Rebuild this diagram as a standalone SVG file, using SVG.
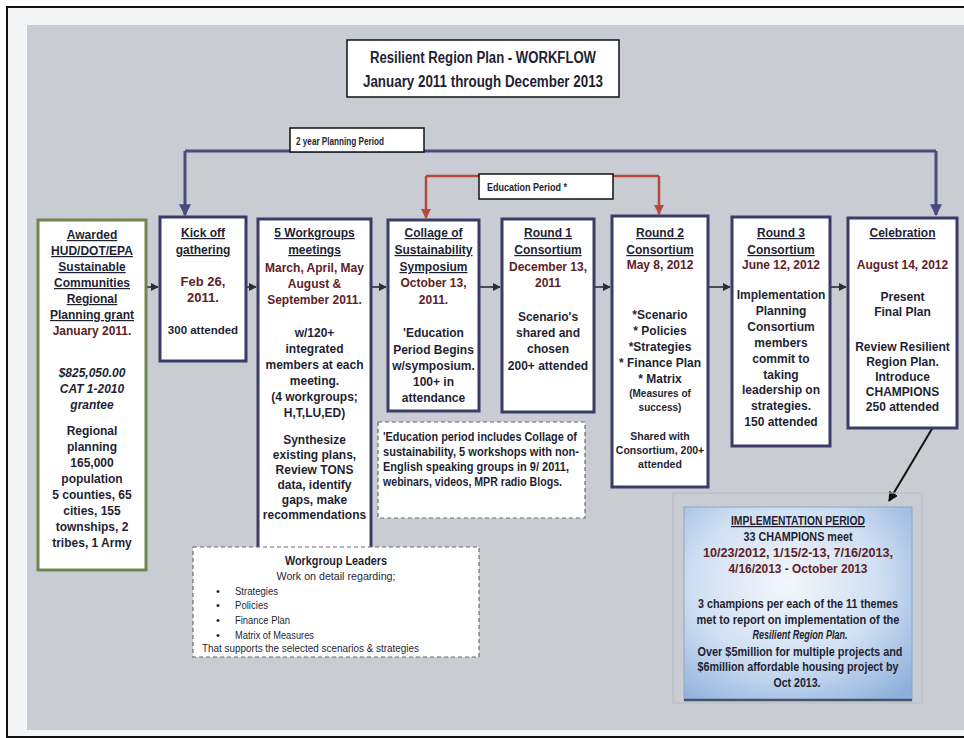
<svg xmlns="http://www.w3.org/2000/svg" width="964" height="738" viewBox="0 0 964 738">
<style>
.t{font-family:"Liberation Sans",Arial,sans-serif;font-weight:bold;font-size:12px;fill:#1f1f33;text-anchor:middle}
.u{text-decoration:underline}
.d{fill:#5e2127}
.l{text-anchor:start}
.n{font-weight:normal}
.node{fill:#ffffff;stroke:#3b3a68;stroke-width:3}
.dash{fill:#ffffff;stroke:#6a6a6a;stroke-width:1.2;stroke-dasharray:4 3}
.lbl{fill:#ffffff;stroke:#111111;stroke-width:1.5}
.arr{stroke:#2b2b3b;stroke-width:1.6;fill:none;marker-end:url(#ah)}
.blue{stroke:#4a4a7e;stroke-width:3;fill:none}
.red{stroke:#b54a3a;stroke-width:2.5;fill:none}
</style>
<defs>
<marker id="ah" viewBox="0 0 10 10" refX="9" refY="5" markerWidth="5" markerHeight="5" orient="auto"><path d="M0,0 L10,5 L0,10 z" fill="#2b2b3b"/></marker>
<marker id="ahb" viewBox="0 0 10 10" refX="9" refY="5" markerWidth="4" markerHeight="4" orient="auto"><path d="M0,0 L10,5 L0,10 z" fill="#4a4a7e"/></marker>
<marker id="ahr" viewBox="0 0 10 10" refX="9" refY="5" markerWidth="4" markerHeight="4" orient="auto"><path d="M0,0 L10,5 L0,10 z" fill="#b54a3a"/></marker>
<marker id="ahk" viewBox="0 0 10 10" refX="9" refY="5" markerWidth="5" markerHeight="5" orient="auto"><path d="M0,0 L10,5 L0,10 z" fill="#111111"/></marker>
<radialGradient id="ig" cx="45%" cy="40%" r="75%">
<stop offset="0" stop-color="#f3f7fc"/>
<stop offset="0.55" stop-color="#cfdff2"/>
<stop offset="1" stop-color="#8fb0dd"/>
</radialGradient>
</defs>
<rect x="0" y="0" width="964" height="738" fill="#ffffff"/>
<rect x="7" y="7" width="962" height="730" fill="#f4f5f7" stroke="#111111" stroke-width="2"/>
<rect x="27" y="25" width="937" height="705" fill="#c9ccd2"/>

<g id="title">
<rect class="lbl" x="347" y="40" width="272" height="57"/>
<text class="t" x="483" y="63" style="font-size:16px" textLength="226" lengthAdjust="spacingAndGlyphs">Resilient Region Plan - WORKFLOW</text>
<text class="t" x="483" y="87" style="font-size:16px" textLength="240" lengthAdjust="spacingAndGlyphs">January 2011 through December 2013</text>
</g>

<g id="connectors">
<path class="blue" d="M185,151 H936"/>
<path class="blue" d="M185,151 V215" marker-end="url(#ahb)"/>
<path class="blue" d="M936,151 V215" marker-end="url(#ahb)"/>
<path class="red" d="M426,176 H659"/>
<path class="red" d="M426,176 V218" marker-end="url(#ahr)"/>
<path class="red" d="M659,176 V214" marker-end="url(#ahr)"/>
<path class="arr" d="M146,287 H158"/>
<path class="arr" d="M246,287 H256"/>
<path class="arr" d="M371,287 H386"/>
<path class="arr" d="M479,287 H500"/>
<path class="arr" d="M594,287 H610"/>
<path class="arr" d="M708,287 H730"/>
<path class="arr" d="M830,287 H846"/>
<path d="M942,412 L889,501" stroke="#111111" stroke-width="2" fill="none" marker-end="url(#ahk)"/>
</g>

<g id="planning-period">
<rect class="lbl" x="290" y="128" width="134" height="24"/>
<text class="t l" x="296" y="145" style="font-size:11px" textLength="88" lengthAdjust="spacingAndGlyphs">2 year Planning Period</text>
</g>

<g id="education-period">
<rect class="lbl" x="479" y="174" width="134" height="25"/>
<text class="t l" x="487" y="191" style="font-size:11px" textLength="80" lengthAdjust="spacingAndGlyphs">Education Period *</text>
</g>

<g id="awarded">
<rect x="38" y="220" width="108" height="350" fill="#ffffff" stroke="#6f8550" stroke-width="3"/>
<text class="t u" x="92" y="239">Awarded</text>
<text class="t u" x="92" y="255">HUD/DOT/EPA</text>
<text class="t u" x="92" y="271">Sustainable</text>
<text class="t u" x="92" y="287">Communities</text>
<text class="t u" x="92" y="303">Regional</text>
<text class="t u" x="92" y="319">Planning grant</text>
<text class="t d" x="92" y="335">January 2011.</text>
<text class="t" x="92" y="377" font-style="italic">$825,050.00</text>
<text class="t" x="92" y="393" font-style="italic">CAT 1-2010</text>
<text class="t" x="92" y="409" font-style="italic">grantee</text>
<text class="t" x="92" y="435">Regional</text>
<text class="t" x="92" y="451">planning</text>
<text class="t" x="92" y="467">165,000</text>
<text class="t" x="92" y="483">population</text>
<text class="t" x="92" y="499">5 counties, 65</text>
<text class="t" x="92" y="515">cities, 155</text>
<text class="t" x="92" y="531">townships, 2</text>
<text class="t" x="92" y="547">tribes, 1 Army</text>
</g>

<g id="kickoff">
<rect class="node" x="160" y="217" width="86" height="144"/>
<text class="t u" x="203" y="237">Kick off</text>
<text class="t u" x="203" y="254">gathering</text>
<text class="t d" x="203" y="286" style="font-size:13px">Feb 26,</text>
<text class="t d" x="203" y="302" style="font-size:13px">2011.</text>
<text class="t" x="203" y="334" style="font-size:11.5px">300 attended</text>
</g>

<g id="workgroups">
<rect class="node" x="258" y="219" width="113" height="340"/>
<text class="t u" x="314.5" y="237">5 Workgroups</text>
<text class="t u" x="314.5" y="254">meetings</text>
<text class="t d" x="314.5" y="272">March, April, May</text>
<text class="t d" x="314.5" y="288">August &amp;</text>
<text class="t d" x="314.5" y="304">September 2011.</text>
<text class="t" x="314.5" y="337">w/120+</text>
<text class="t" x="314.5" y="353">integrated</text>
<text class="t" x="314.5" y="369">members at each</text>
<text class="t" x="314.5" y="385">meeting.</text>
<text class="t" x="314.5" y="401">(4 workgroups;</text>
<text class="t" x="314.5" y="417">H,T,LU,ED)</text>
<text class="t" x="314.5" y="444">Synthesize</text>
<text class="t" x="314.5" y="459">existing plans,</text>
<text class="t" x="314.5" y="474">Review TONS</text>
<text class="t" x="314.5" y="489">data, identify</text>
<text class="t" x="314.5" y="504">gaps, make</text>
<text class="t" x="314.5" y="519">recommendations</text>
</g>

<g id="collage">
<rect class="node" x="388" y="220" width="91" height="191"/>
<text class="t u" x="433.5" y="237">Collage of</text>
<text class="t u" x="433.5" y="254">Sustainability</text>
<text class="t u" x="433.5" y="271">Symposium</text>
<text class="t d" x="433.5" y="287">October 13,</text>
<text class="t d" x="433.5" y="304">2011.</text>
<text class="t" x="433.5" y="337">'Education</text>
<text class="t" x="433.5" y="354">Period Begins</text>
<text class="t" x="433.5" y="370">w/symposium.</text>
<text class="t" x="433.5" y="386">100+ in</text>
<text class="t" x="433.5" y="402">attendance</text>
</g>

<g id="round1">
<rect class="node" x="502" y="219" width="92" height="193"/>
<text class="t u" x="548" y="237">Round 1</text>
<text class="t u" x="548" y="254">Consortium</text>
<text class="t d" x="548" y="271">December 13,</text>
<text class="t d" x="548" y="287">2011</text>
<text class="t" x="548" y="321">Scenario's</text>
<text class="t" x="548" y="337">shared and</text>
<text class="t" x="548" y="353">chosen</text>
<text class="t" x="548" y="370">200+ attended</text>
</g>

<g id="round2">
<rect class="node" x="612" y="216" width="96" height="271"/>
<text class="t u" x="660" y="237">Round 2</text>
<text class="t u" x="660" y="254">Consortium</text>
<text class="t d" x="660" y="269">May 8, 2012</text>
<text class="t" x="660" y="319">*Scenario</text>
<text class="t" x="660" y="335">* Policies</text>
<text class="t" x="660" y="351">*Strategies</text>
<text class="t" x="660" y="367">* Finance Plan</text>
<text class="t" x="660" y="383">* Matrix</text>
<text class="t" x="660" y="397" style="font-size:10px">(Measures of</text>
<text class="t" x="660" y="411" style="font-size:10px">success)</text>
<text class="t" x="660" y="440" style="font-size:10.5px">Shared with</text>
<text class="t" x="660" y="454" style="font-size:10.5px">Consortium, 200+</text>
<text class="t" x="660" y="468" style="font-size:10.5px">attended</text>
</g>

<g id="round3">
<rect class="node" x="732" y="217" width="98" height="229"/>
<text class="t u" x="781" y="237">Round 3</text>
<text class="t u" x="781" y="254">Consortium</text>
<text class="t d" x="781" y="269">June 12, 2012</text>
<text class="t" x="781" y="299">Implementation</text>
<text class="t" x="781" y="315">Planning</text>
<text class="t" x="781" y="331">Consortium</text>
<text class="t" x="781" y="347">members</text>
<text class="t" x="781" y="363">commit to</text>
<text class="t" x="781" y="379">taking</text>
<text class="t" x="781" y="394">leadership on</text>
<text class="t" x="781" y="410">strategies.</text>
<text class="t" x="781" y="426">150 attended</text>
</g>

<g id="celebration">
<rect class="node" x="848" y="218" width="109" height="210"/>
<text class="t u" x="902.5" y="237">Celebration</text>
<text class="t d" x="902.5" y="269">August 14, 2012</text>
<text class="t" x="902.5" y="301">Present</text>
<text class="t" x="902.5" y="316">Final Plan</text>
<text class="t" x="902.5" y="351">Review Resilient</text>
<text class="t" x="902.5" y="366">Region Plan.</text>
<text class="t" x="902.5" y="381">Introduce</text>
<text class="t" x="902.5" y="396">CHAMPIONS</text>
<text class="t" x="902.5" y="411">250 attended</text>
</g>

<g id="education-note">
<rect class="dash" x="378" y="422" width="207" height="96"/>
<text class="t l" x="383" y="441" style="font-size:12px" textLength="194" lengthAdjust="spacingAndGlyphs">'Education period includes Collage of</text>
<text class="t l" x="383" y="456" style="font-size:12px" textLength="196" lengthAdjust="spacingAndGlyphs">sustainability, 5 workshops with non-</text>
<text class="t l" x="383" y="471" style="font-size:12px" textLength="186" lengthAdjust="spacingAndGlyphs">English speaking groups in 9/ 2011,</text>
<text class="t l" x="383" y="486" style="font-size:12px" textLength="179" lengthAdjust="spacingAndGlyphs">webinars, videos, MPR radio Blogs.</text>
</g>

<g id="workgroup-leaders">
<rect class="dash" x="193" y="547" width="286" height="110"/>
<text class="t" x="336" y="565" style="font-size:12px" textLength="102" lengthAdjust="spacingAndGlyphs">Workgroup Leaders</text>
<text class="t n" x="336" y="580" style="font-size:11px" textLength="119" lengthAdjust="spacingAndGlyphs">Work on detail regarding;</text>
<text class="t n l" x="216" y="595" style="font-size:11px">•</text>
<text class="t n l" x="235" y="595" style="font-size:11px" textLength="43" lengthAdjust="spacingAndGlyphs">Strategies</text>
<text class="t n l" x="216" y="609" style="font-size:11px">•</text>
<text class="t n l" x="235" y="609" style="font-size:11px" textLength="33" lengthAdjust="spacingAndGlyphs">Policies</text>
<text class="t n l" x="216" y="624" style="font-size:11px">•</text>
<text class="t n l" x="235" y="624" style="font-size:11px" textLength="55" lengthAdjust="spacingAndGlyphs">Finance Plan</text>
<text class="t n l" x="216" y="639" style="font-size:11px">•</text>
<text class="t n l" x="235" y="639" style="font-size:11px" textLength="79" lengthAdjust="spacingAndGlyphs">Matrix of Measures</text>
<text class="t n l" x="202" y="652" style="font-size:11px" textLength="217" lengthAdjust="spacingAndGlyphs">That supports the selected scenarios &amp; strategies</text>
</g>

<g id="implementation">
<rect x="673" y="493" width="249" height="210" fill="none" stroke="#b9bcc2" stroke-width="1"/>
<rect x="684" y="507" width="228" height="193" fill="url(#ig)" stroke="#8ea6c6" stroke-width="1"/>
<path d="M684,700 H912" stroke="#44556a" stroke-width="2.5"/>
<text class="t u" x="798" y="525" textLength="134" lengthAdjust="spacingAndGlyphs">IMPLEMENTATION PERIOD</text>
<text class="t" x="798" y="541" textLength="109" lengthAdjust="spacingAndGlyphs">33 CHAMPIONS meet</text>
<text class="t d" x="798" y="557" textLength="190" lengthAdjust="spacingAndGlyphs">10/23/2012, 1/15/2-13, 7/16/2013,</text>
<text class="t d" x="798" y="573" textLength="139" lengthAdjust="spacingAndGlyphs">4/16/2013 - October 2013</text>
<text class="t" x="798" y="608" textLength="200" lengthAdjust="spacingAndGlyphs">3 champions per each of the 11 themes</text>
<text class="t" x="798" y="624" textLength="203" lengthAdjust="spacingAndGlyphs">met to report on implementation of the</text>
<text class="t" x="800" y="639" font-style="italic" textLength="95" lengthAdjust="spacingAndGlyphs">Resilient Region Plan.</text>
<text class="t" x="800" y="656" textLength="205" lengthAdjust="spacingAndGlyphs">Over $5million for multiple projects and</text>
<text class="t" x="798" y="671" textLength="201" lengthAdjust="spacingAndGlyphs">$6million affordable housing project by</text>
<text class="t" x="797" y="687" textLength="47" lengthAdjust="spacingAndGlyphs">Oct 2013.</text>
</g>
</svg>
